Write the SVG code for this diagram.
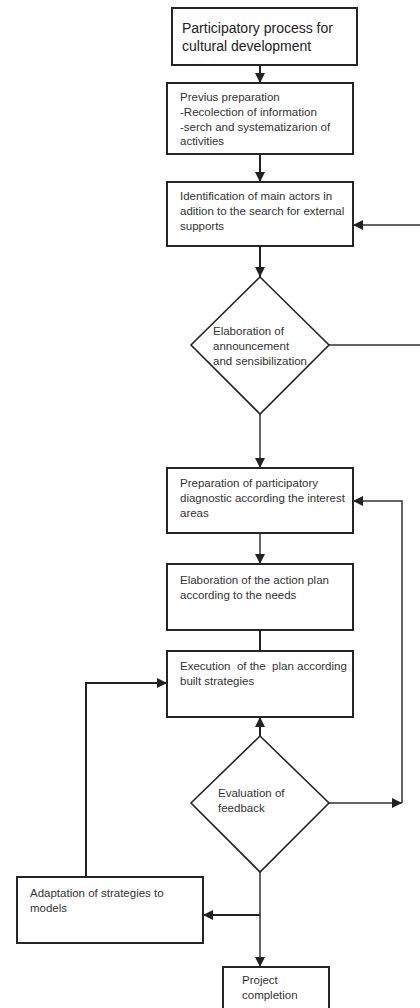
<svg xmlns="http://www.w3.org/2000/svg" width="420" height="1008" viewBox="0 0 420 1008">
<style>
.box{fill:#fff;stroke:#262626;stroke-width:2}
.dia{fill:#fff;stroke:#262626;stroke-width:1.6}
.t{font-family:"Liberation Sans",Arial,sans-serif;font-size:11.5px;fill:#333}
.tt{font-family:"Liberation Sans",Arial,sans-serif;font-size:14px;fill:#222}
.c{fill:none;stroke:#333;stroke-width:1.5}
.ct{fill:none;stroke:#222;stroke-width:2}
</style>
<defs>
<marker id="ah" viewBox="0 0 10 10" refX="10" refY="5" markerWidth="10" markerHeight="10" markerUnits="userSpaceOnUse" orient="auto">
<path d="M0,0 L10,5 L0,10 z" fill="#222"/>
</marker>
</defs>
<rect width="420" height="1008" fill="#fff"/>
<g id="connectors">
<line class="ct" x1="260" y1="65" x2="260" y2="83" marker-end="url(#ah)"/>
<line class="ct" x1="260" y1="154" x2="260" y2="182" marker-end="url(#ah)"/>
<line class="ct" x1="260" y1="246" x2="260" y2="277" marker-end="url(#ah)"/>
<line class="c" x1="421" y1="225" x2="353" y2="225" marker-end="url(#ah)"/>
<line class="c" x1="329" y1="345" x2="421" y2="345"/>
<line class="c" x1="260" y1="414" x2="260" y2="468" marker-end="url(#ah)"/>
<line class="c" x1="260" y1="533" x2="260" y2="564" marker-end="url(#ah)"/>
<line class="ct" x1="260" y1="630" x2="260" y2="651"/>
<line class="ct" x1="260" y1="736" x2="260" y2="717" marker-end="url(#ah)"/>
<polyline class="c" points="402,803 402,501 353,501" marker-end="url(#ah)"/>
<line class="c" x1="329" y1="803" x2="402" y2="803" marker-end="url(#ah)"/>
<line class="c" x1="260" y1="872" x2="260" y2="967" marker-end="url(#ah)"/>
<line class="ct" x1="260" y1="915" x2="203" y2="915" marker-end="url(#ah)"/>
<polyline class="ct" points="86,877 86,683 167,683" marker-end="url(#ah)"/>
</g>
<g id="n1">
<rect class="box" x="172" y="8" width="185" height="57"/>
<text class="tt" x="182" y="33">Participatory process for</text>
<text class="tt" x="182" y="51">cultural development</text>
</g>
<g id="n2">
<rect class="box" x="167" y="83" width="186" height="71"/>
<text class="t" x="180" y="101">Previus preparation</text>
<text class="t" x="180" y="116">-Recolection of information</text>
<text class="t" x="180" y="130.5">-serch and systematizarion of</text>
<text class="t" x="180" y="145">activities</text>
</g>
<g id="n3">
<rect class="box" x="167" y="182" width="186" height="64"/>
<text class="t" x="180" y="200">Identification of main actors in</text>
<text class="t" x="180" y="215">adition to the search for external</text>
<text class="t" x="180" y="230">supports</text>
</g>
<g id="d1">
<polygon class="dia" points="260,277 329,345 260,414 191,345"/>
<text class="t" x="213" y="335">Elaboration of</text>
<text class="t" x="213" y="350">announcement</text>
<text class="t" x="213" y="364.5">and sensibilization</text>
</g>
<g id="n4">
<rect class="box" x="167" y="468" width="186" height="65"/>
<text class="t" x="180" y="487">Preparation of participatory</text>
<text class="t" x="180" y="502">diagnostic according the interest</text>
<text class="t" x="180" y="517">areas</text>
</g>
<g id="n5">
<rect class="box" x="167" y="564" width="186" height="66"/>
<text class="t" x="180" y="584">Elaboration of the action plan</text>
<text class="t" x="180" y="598.5">according to the needs</text>
</g>
<g id="n6">
<rect class="box" x="167" y="651" width="186" height="66"/>
<text class="t" x="180" y="670" xml:space="preserve">Execution  of the  plan according</text>
<text class="t" x="180" y="684.5">built strategies</text>
</g>
<g id="d2">
<polygon class="dia" points="260,736 329,803 260,872 191,803"/>
<text class="t" x="218" y="797">Evaluation of</text>
<text class="t" x="218" y="812">feedback</text>
</g>
<g id="n7">
<rect class="box" x="17" y="877" width="186" height="66"/>
<text class="t" x="30" y="897">Adaptation of strategies to</text>
<text class="t" x="30" y="911.5">models</text>
</g>
<g id="n8">
<rect class="box" x="223" y="967" width="106" height="60"/>
<text class="t" x="242" y="984">Project</text>
<text class="t" x="242" y="999">completion</text>
</g>
</svg>
